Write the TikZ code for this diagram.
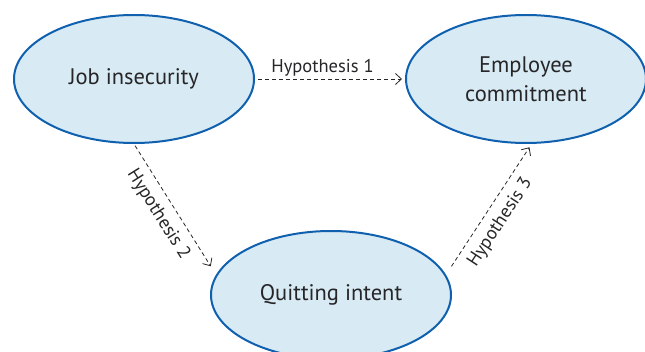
\documentclass[tikz,border=0pt]{standalone}
\usepackage{fontspec}
\setmainfont{PT Sans}
\usetikzlibrary{arrows.meta,shapes.geometric}
\definecolor{ovalfill}{RGB}{216,234,243}
\definecolor{ovalline}{RGB}{16,96,176}
\definecolor{txtgray}{RGB}{38,38,40}

\begin{document}
\begin{tikzpicture}[x=1pt, y=1pt, node distance=392pt, text=txtgray,
  factor/.style={ellipse, draw=ovalline, fill=ovalfill, line width=2pt, minimum width=240pt, minimum height=128pt, align=center, font=\fontsize{22.5}{29}\selectfont},
  hyp/.style={draw=txtgray, line width=0.8pt, dash pattern=on 4pt off 3pt, -{Straight Barb[length=6pt, width=11pt]}},
  hyplabel/.style={font=\fontsize{18.5}{20}\selectfont, inner sep=2pt}]
  {
  \clip (0,0) rectangle (645,351);
  \node[factor] (jobins) at (134,272) {Job insecurity};
  \node[factor, right of=jobins] (commit) {Employee\\commitment};
  \node[factor, below of=jobins, node distance=216pt, xshift=197pt] (quit) {Quitting intent};

  \draw[hyp, shorten <=3pt, shorten >=3pt] (jobins) -- node[hyplabel, above, pos=0.45] {Hypothesis 1} (commit);
  \draw[hyp, shorten <=2pt, shorten >=10pt] (jobins.south) -- node[hyplabel, sloped, below=6pt, pos=0.47] {Hypothesis 2} (quit.170);
  \draw[hyp, shorten <=10pt, shorten >=4pt] (quit.10) -- node[hyplabel, sloped, below=6pt, pos=0.47] {Hypothesis 3} (commit.-85);
  }
\end{tikzpicture}
\end{document}
